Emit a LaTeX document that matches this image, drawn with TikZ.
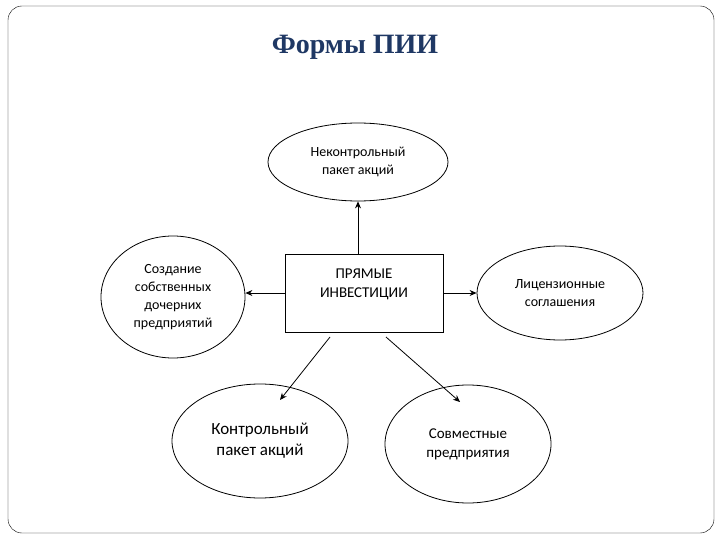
\documentclass[tikz,border=0pt]{standalone}
\usepackage{fontspec}
\setmainfont{Carlito}
\newfontfamily\titlefont{Liberation Serif}
\usetikzlibrary{shapes.geometric,arrows.meta}
\definecolor{titleblue}{RGB}{31,56,100}
\begin{document}
\begin{tikzpicture}[x=1pt,y=-1pt,
  ell/.style={draw,thick,ellipse,align=center,inner sep=0pt,font=\fontsize{14}{18}\selectfont},
  arr/.style={draw,thick,-{Stealth[length=7pt,width=6pt]}}]
\useasboundingbox (0,0) rectangle (720,540);
\draw[rounded corners=14pt] (8,6) rectangle (714,533);
\node[font=\titlefont\bfseries\fontsize{28}{32}\selectfont,text=titleblue] (title) at (355,47) {Формы ПИИ};
\node[ell,minimum width=180pt,minimum height=78pt] (top) at (358,162) {Неконтрольный\\пакет акций};
\node[ell,minimum width=144pt,minimum height=122pt] (left) at (173,297) {Создание\\собственных\\дочерних\\предприятий};
\node[ell,minimum width=166pt,minimum height=94pt] (right) at (560,293) {Лицензионные\\соглашения};
\node[ell,minimum width=176pt,minimum height=114pt,font=\fontsize{17}{21}\selectfont] (bl) at (260,441) {Контрольный\\пакет акций};
\node[ell,minimum width=166pt,minimum height=118pt,font=\fontsize{15}{19}\selectfont] (br) at (468,444) {Совместные\\предприятия};
\node[draw,thick,minimum width=158pt,minimum height=78pt] (rect) at (364,293) {};
\node[align=center,font=\fontsize{15}{19}\selectfont] (rtext) at (364,284) {ПРЯМЫЕ\\ИНВЕСТИЦИИ};
\draw[arr] (rect.north -| top.south) -- (top.south);
\draw[arr] (rect.west) -- (rect.west -| left.east);
\draw[arr] (rect.east) -- (rect.east -| right.west);
\coordinate (s1) at (330,337);
\coordinate (s2) at (386,337);
\draw[arr] (s1) -- (280,400);
\draw[arr] (s2) -- (460,402);
\end{tikzpicture}
\end{document}
